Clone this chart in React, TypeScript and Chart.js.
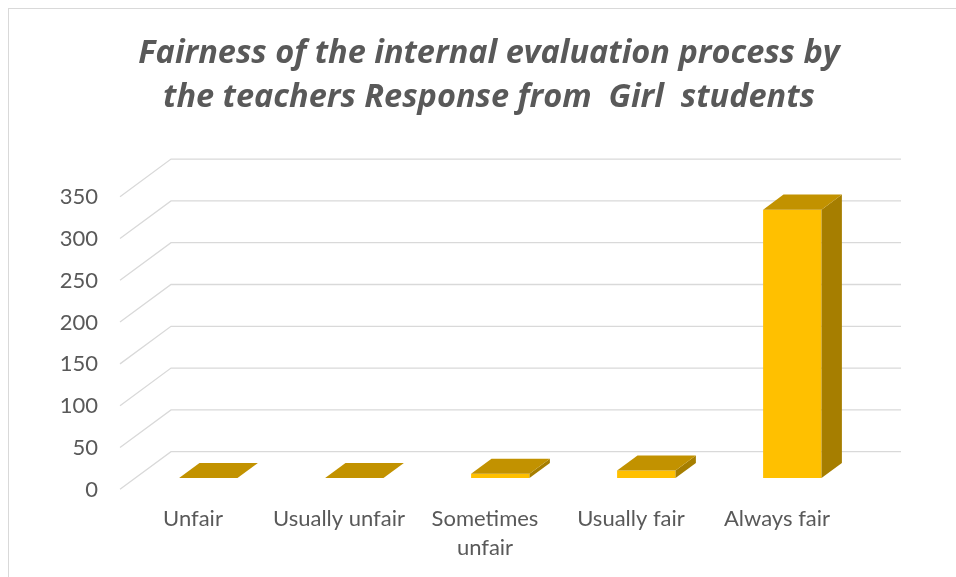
import React, { useEffect, useRef } from "react";
import { Chart, registerables } from "chart.js";

Chart.register(...registerables);

// ---- data ----
const categories: (string | string[])[] = [
  "Unfair",
  "Usually unfair",
  ["Sometimes", "unfair"],
  "Usually fair",
  "Always fair",
];
const responses = [0, 0, 5, 9, 321];
const yMin = 0;
const yMax = 350;
const yStep = 50;
const titleLines = [
  "Fairness of the internal evaluation process by",
  "the teachers Response from  Girl  students",
];

// ---- style ----
const DX = 51; // full depth x offset
const DY = 37.6; // full depth y offset
const FRONT = 0.3; // gap in front of bars (fraction of depth)
const DEPTH = 0.4; // bar depth (fraction)
const GRID = "#D9D9D9";
const FRONT_COL = "#FFC000";
const TOP_COL = "#C29200";
const SIDE_COL = "#A67E00";
const TEXT = "#595959";
const FONT = "Lato";

const box3d = {
  id: "box3d",
  beforeDatasetsDraw(chart: any) {
    const { ctx, chartArea, scales } = chart;
    const ys = scales.y;
    ctx.save();
    ctx.strokeStyle = GRID;
    ctx.lineWidth = 1.3;
    ys.ticks.forEach((t: any) => {
      const py = ys.getPixelForValue(t.value);
      const fx = chartArea.left - FRONT * DX;
      const fy = py + FRONT * DY;
      const bx = chartArea.left + (1 - FRONT) * DX;
      const by = py - (1 - FRONT) * DY;
      const ex = chartArea.right + (1 - FRONT) * DX;
      ctx.beginPath();
      ctx.moveTo(fx, fy);
      ctx.lineTo(bx, by);
      ctx.lineTo(ex, by);
      ctx.stroke();
    });
    ctx.restore();
  },
  afterDatasetsDraw(chart: any) {
    const { ctx } = chart;
    const meta = chart.getDatasetMeta(0);
    const ox = DEPTH * DX;
    const oy = -DEPTH * DY;
    ctx.save();
    meta.data.forEach((bar: any) => {
      const { x, y, base, width } = bar.getProps(["x", "y", "base", "width"], true);
      const l = x - width / 2;
      const r = x + width / 2;
      if (base - y > 0.3) {
        ctx.fillStyle = SIDE_COL;
        ctx.beginPath();
        ctx.moveTo(r, y);
        ctx.lineTo(r + ox, y + oy);
        ctx.lineTo(r + ox, base + oy);
        ctx.lineTo(r, base);
        ctx.closePath();
        ctx.fill();
      }
      ctx.fillStyle = TOP_COL;
      ctx.beginPath();
      ctx.moveTo(l, y);
      ctx.lineTo(r, y);
      ctx.lineTo(r + ox, y + oy);
      ctx.lineTo(l + ox, y + oy);
      ctx.closePath();
      ctx.fill();
    });
    ctx.restore();
  },
  afterDraw(chart: any) {
    const { ctx } = chart;
    ctx.save();
    ctx.fillStyle = TEXT;
    ctx.font = 'italic bold 32.5px "Open Sans"';
    ctx.textAlign = "center";
    ctx.textBaseline = "alphabetic";
    const baselines = [54.3, 98];
    titleLines.forEach((line, i) => ctx.fillText(line, 480, baselines[i]));
    ctx.restore();
  },
};

export default function App() {
  const ref = useRef<HTMLCanvasElement | null>(null);

  useEffect(() => {
    if (!ref.current) return;
    const chart = new Chart(ref.current, {
      type: "bar",
      data: {
        labels: categories as any,
        datasets: [
          {
            data: responses,
            backgroundColor: FRONT_COL,
            borderWidth: 0,
            barPercentage: 1,
            categoryPercentage: 0.4,
          },
        ],
      },
      options: {
        responsive: false,
        animation: false,
        devicePixelRatio: 1,
        layout: { padding: { left: 0, right: 90.7, top: 176.4, bottom: 0 } },
        plugins: {
          legend: { display: false },
          tooltip: { enabled: false },
          title: { display: false },
        },
        scales: {
          x: {
            grid: { display: false, drawTicks: false },
            border: { display: false },
            ticks: {
              color: TEXT,
              font: { family: FONT, size: 22, lineHeight: 1.33 },
              padding: 26.4,
              labelOffset: -FRONT * DX,
              maxRotation: 0,
              minRotation: 0,
              autoSkip: false,
            },
            afterFit(s: any) {
              s.height = 99;
            },
          },
          y: {
            min: yMin,
            max: yMax,
            grid: { display: false, drawTicks: false },
            border: { display: false },
            ticks: {
              stepSize: yStep,
              color: TEXT,
              font: { family: FONT, size: 22 },
              padding: 37.3,
              labelOffset: FRONT * DY + 0.5,
            },
            afterFit(s: any) {
              s.width = 126.3;
            },
          },
        },
      },
      plugins: [box3d],
    });
    return () => chart.destroy();
  }, []);

  return (
    <div
      style={{
        position: "fixed",
        left: 8,
        top: 8,
        width: 948,
        height: 569,
        borderLeft: "1px solid #D9D9D9",
        borderTop: "1px solid #D9D9D9",
        boxSizing: "border-box",
        overflow: "hidden",
        background: "#fff",
      }}
    >
      <canvas ref={ref} width={947} height={568} style={{ display: "block", width: 947, height: 568 }} />
    </div>
  );
}
